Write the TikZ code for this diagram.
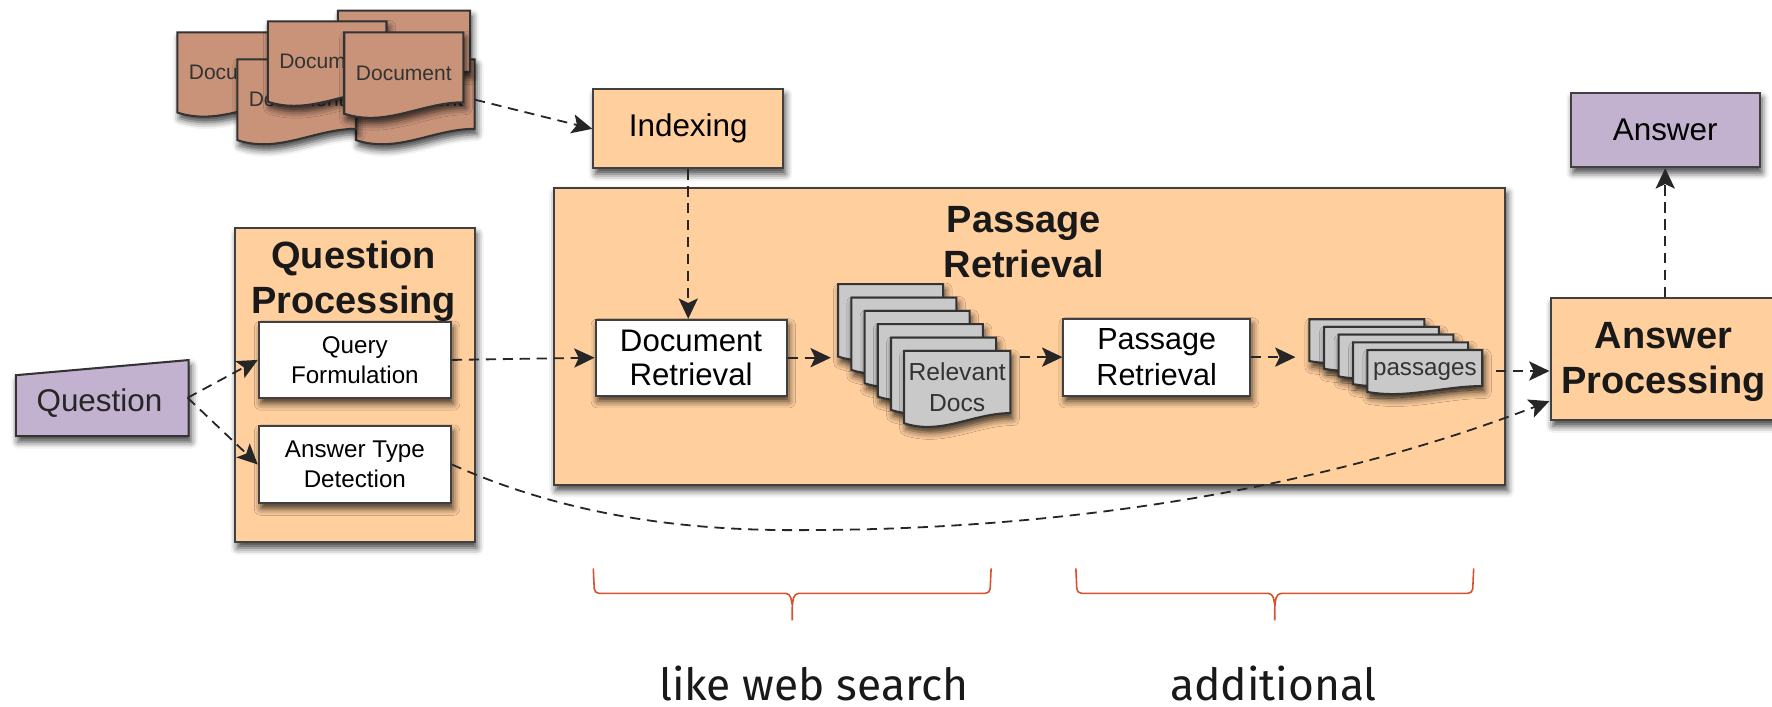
\documentclass[tikz,border=0pt]{standalone}
\usepackage{fontspec}
\setmainfont{Liberation Sans}
\newfontfamily\notefont{Fira Sans}
\usetikzlibrary{arrows.meta,shadows.blur}
\definecolor{boxorange}{HTML}{FFCF9E}
\definecolor{boxpurple}{HTML}{C3B1D0}
\definecolor{docbrown}{HTML}{C9937A}
\definecolor{docgray}{HTML}{C9C9C9}
\definecolor{bracered}{HTML}{D9502E}
\tikzset{
    softshadow/.style={blur shadow={shadow xshift=1pt,shadow yshift=-2.5pt,shadow blur radius=3pt,shadow opacity=75}},
    box/.style={draw=black!75,line width=.9pt,inner sep=0pt,align=center,softshadow},
    sheet/.style={draw=black!80,line width=.9pt,softshadow},
    flow/.style={draw=black!85,line width=.8pt,dash pattern=on 4.5pt off 3pt,-{Stealth[length=9pt,width=8.5pt,inset=2pt]}},
    titletext/.style={font=\fontsize{16.8}{20}\selectfont\bfseries,align=center,text=black!90},
    notetext/.style={font=\notefont\fontsize{19.6}{24}\selectfont,text=black!90,inner sep=0pt,anchor=base},
    brace/.style={draw=bracered,line width=.7pt,rounded corners=2pt}
}
% one sheet with a wavy lower edge: name, left, top, width, height, colour, font size, text
\newcommand{\wavedoc}[8]{
    \begin{scope}[shift={(#2,#3)},x=#4*.5pt,y=-#5*.5pt]
        \draw[sheet,fill=#6] (0,0)--(1,0)--(1,.86) .. controls (.65,.86) and (.35,1.17) .. (0,1)--cycle;
        \node[minimum width=#4*.5pt,minimum height=#5*.5pt,inner sep=0pt,align=center,text=black!80,font=\fontsize{#7}{13.5}\selectfont] (#1) at (.5,.5) {#8};
    \end{scope}
}
\begin{document}
\begin{tikzpicture}[x=.5pt,y=-.5pt]
    \useasboundingbox (0,0) rectangle (1568,625);

    % document pile
    \wavedoc{docE}{315}{52.5}{105}{71.5}{docbrown}{9.3}{Document}
    \wavedoc{docD}{299}{9.5}{117}{63}{docbrown}{9.3}{}
    \wavedoc{docA}{157}{28.6}{105}{71}{docbrown}{9.3}{Document}
    \wavedoc{docB}{210}{52.5}{105}{71.5}{docbrown}{9.3}{Document}
    \wavedoc{docC}{237}{19}{105}{71}{docbrown}{9.3}{Document}
    \wavedoc{docF}{304.6}{28.6}{105.4}{72}{docbrown}{9.3}{Document}

    % boxes
    \node[box,fill=boxorange,minimum width=84pt,minimum height=35pt,font=\fontsize{13.9}{16}\selectfont] (indexing) at (609,114) {\raisebox{-1pt}{Indexing}};
    \node[box,fill=boxpurple,minimum width=83.5pt,minimum height=33pt,font=\fontsize{13.9}{16}\selectfont] (answer) at (1473.5,115) {Answer};
    \node[box,fill=boxorange,minimum width=106pt,minimum height=139pt] (qproc) at (314,341) {};
    \node[titletext] (qtitle) at (313,249) {Question\\Processing};
    \node[box,fill=white,minimum width=85pt,minimum height=33.5pt,font=\fontsize{10.7}{13.5}\selectfont] (qform) at (314,318.5) {Query\\Formulation};
    \node[box,fill=white,minimum width=85pt,minimum height=34pt,font=\fontsize{10.7}{13.5}\selectfont] (atype) at (314,411) {Answer Type\\Detection};
    \node[box,fill=boxorange,minimum width=421pt,minimum height=131.5pt] (pret) at (911,297.5) {};
    \node[titletext] (ptitle) at (906,214) {Passage\\Retrieval};
    \node[box,fill=white,minimum width=84.5pt,minimum height=33.5pt,font=\fontsize{13.8}{16.2}\selectfont] (docret) at (611.5,316.5) {\raisebox{-1pt}{Document}\\Retrieval};
    \node[box,fill=white,minimum width=82.5pt,minimum height=34pt,font=\fontsize{13.5}{16.2}\selectfont] (pasret) at (1023.5,316) {Passage\\Retrieval};
    \node[box,fill=boxorange,minimum width=105pt,minimum height=54pt] (aproc) at (1477,318) {};
    \node[titletext] (atitle) at (1472,320) {Answer\\Processing};

    % stacked sheets
    \foreach \i in {0,...,4}{
        \pgfmathsetmacro{\sx}{741.6+11.7*\i}
        \pgfmathsetmacro{\sy}{251.5+11.8*\i}
        \wavedoc{rel\i}{\sx}{\sy}{93}{64}{docgray}{10.9}{}
    }
    \wavedoc{rel5}{800}{310.5}{94}{64}{docgray}{10.9}{Relevant\\Docs}
    \foreach \i in {0,...,3}{
        \pgfmathsetmacro{\sx}{1158.7+12.9*\i}
        \pgfmathsetmacro{\sy}{282.5+6.8*\i}
        \wavedoc{pas\i}{\sx}{\sy}{101.6}{37}{docgray}{10.7}{}
    }
    \wavedoc{pas4}{1210}{309.8}{101.6}{37}{docgray}{10.7}{passages}

    % question
    \draw[sheet,fill=boxpurple] (14,332)--(167,318.6)--(167,386)--(14,386)--cycle;
    \node[inner sep=0pt,font=\fontsize{13.9}{16}\selectfont,text=black!85] (question) at (88,357) {Question};
    \coordinate (qtip) at (166,352);
    \coordinate (apin) at (1371,355);

    % flow
    \draw[flow] (qtip)--(qform.west);
    \draw[flow] (qtip)--(atype.west);
    \draw[flow] (docE.east)--(indexing.west);
    \draw[flow] (indexing.south)--(indexing.south |- docret.north);
    \draw[flow] (qform.east)--(docret.west);
    \draw[flow,shorten >=3pt] (docret.east)--(docret.east -| rel0.west);
    \draw[flow,shorten <=4pt] (rel5.east |- pasret.east)--(pasret.west);
    \draw[flow,shorten >=6pt] (pasret.east)--(pas0.west |- pasret.east);
    \draw[flow,shorten <=6pt] (pas4.east)--(aproc.west |- pas4.east);
    \draw[flow] (answer.south |- aproc.north)--(answer.south);
    \draw[flow] (atype.east) .. controls (520,465) and (640,470) .. (720,469) .. controls (970,468) and (1190,425) .. (apin);

    % braces
    \foreach \xa/\xb/\xc in {525/877/701,952/1304/1128}{
        \draw[brace] (\xa,503)--(\xa+1,525)--(\xc-2,525)--(\xc,535) (\xc,549)--(\xc,535)--(\xc+2,525)--(\xb-1,525)--(\xb,503);
    }
    \node[notetext] (websearch) at (720,620) {like web search};
    \node[notetext] (additional) at (1127,620) {additional};
\end{tikzpicture}
\end{document}
